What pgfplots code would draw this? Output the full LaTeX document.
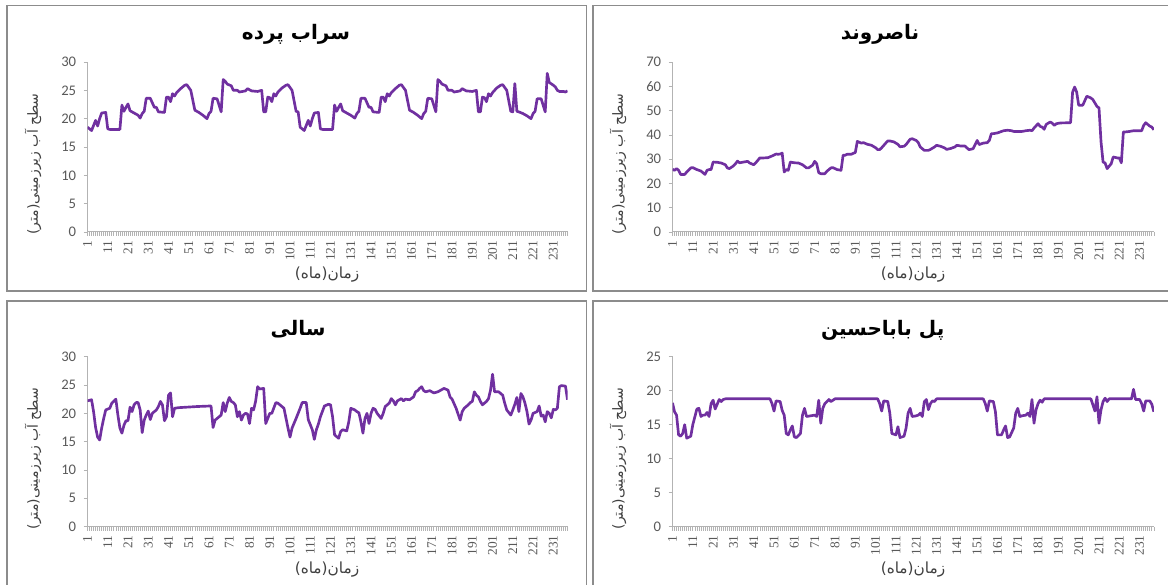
\documentclass[border=0pt]{standalone}
\usepackage{fontspec}
\usepackage{pgfplots}
\pgfplotsset{compat=1.18}
\TeXXeTstate=1
\newfontfamily\fa[Script=Arabic]{DejaVu Sans}
\newfontfamily\carlito{Carlito}
\newfontfamily\tnr{Liberation Serif}
\definecolor{lineP}{HTML}{7030A0}
\definecolor{axgray}{HTML}{B3B3B3}
\definecolor{frgray}{HTML}{8C8C8C}
\definecolor{lblgray}{HTML}{595959}
\definecolor{ttlgray}{HTML}{404040}

\pgfplotsset{
  panel/.style={
    scale only axis, width=360pt, height=127.5pt,
    xmin=1, xmax=238, ymin=0,
    axis lines=left, axis line style={draw=axgray, line width=0.75pt, -},
    xtick={1,11,...,231}, minor xtick={1,...,238},
    tick align=outside, major tick length=3pt, minor tick length=3pt,
    tick style={draw=axgray, line width=0.5pt},
    xticklabel style={rotate=90, anchor=east, font=\tnr\fontsize{10}{11}\selectfont, text=lblgray},
    yticklabel style={font=\carlito\fontsize{11}{12}\selectfont, text=lblgray, xshift=-2pt},
    /pgf/number format/assume math mode=true,
    every axis plot post/.style={draw=lineP, line width=2pt, line join=round, mark=none},
  },
}
\tikzset{
  ttl/.style={font=\fa\bfseries\fontsize{15}{17}\selectfont, anchor=base},
  ylab/.style={font=\fa\fontsize{10.5}{12}\selectfont, text=ttlgray, rotate=90},
  xlab/.style={font=\fa\fontsize{11.5}{13}\selectfont, text=ttlgray},
}

\begin{document}
\begin{tikzpicture}
\useasboundingbox (0,0) rectangle (876pt,-438.75pt);
\begin{scope}
\clip (0,0) rectangle (876pt,-438.75pt);
\draw[frgray, line width=0.9pt] (5.25pt,-4.1pt) rectangle (439.9pt,-218.25pt);
\draw[frgray, line width=0.9pt] (444.75pt,-4.1pt) rectangle (880pt,-218.25pt);
\draw[frgray, line width=0.9pt] (5.25pt,-225.75pt) rectangle (439.9pt,-445pt);
\draw[frgray, line width=0.9pt] (444.75pt,-225.75pt) rectangle (880pt,-445pt);
\end{scope}

% سراب پرده
\begin{axis}[panel, at={(65.625pt,-46.5pt)}, anchor=north west, ymax=30, ytick={0,5,...,30}]
\addplot coordinates {
(1,18.5)(2,18.2)(3,17.9)(4,18.8)(5,19.7)(6,18.7)(7,20.0)(8,21.0)(10,21.1)(11,18.2)(12,18.1)(17,18.1)
(18,22.4)(19,21.3)(20,22.0)(21,22.6)(22,21.4)(24,21.0)(26,20.6)(27,20.1)(28,20.9)(29,21.3)(30,23.6)
(32,23.6)(34,22.0)(35,22.0)(36,21.2)(39,21.1)(40,23.8)(41,23.8)(42,23.0)(43,24.4)(44,24.0)(45,24.6)
(47,25.3)(49,25.9)(50,26.0)(52,25.0)(54,21.5)(56,21.1)(58,20.6)(60,20.0)(61,20.9)(62,21.3)(63,23.6)
(65,23.5)(67,21.2)(68,26.9)(69,26.6)(70,26.1)(72,25.8)(73,25.0)(75,25.0)(76,24.7)(79,24.9)(80,25.3)
(82,24.9)(85,24.8)(87,25.0)(88,21.2)(89,21.2)(90,23.8)(91,23.7)(92,23.0)(93,24.4)(94,24.0)(95,24.7)
(97,25.4)(99,25.9)(100,26.0)(102,25.0)(104,21.3)(105,21.2)
(106,18.5)(107,18.2)(108,17.9)(109,18.8)(110,19.7)(111,18.7)(112,20.0)(113,21.0)(115,21.1)(116,18.2)
(117,18.1)(122,18.1)(123,22.4)(124,21.3)(125,22.0)(126,22.6)(127,21.4)(129,21.0)(131,20.6)(133,20.1)
(134,20.9)(135,21.3)(136,23.6)(138,23.6)(140,22.0)(141,22.0)(142,21.2)(145,21.1)(146,23.8)(147,23.8)
(148,23.0)(149,24.4)(150,24.0)(151,24.6)(153,25.3)(155,25.9)(156,26.0)(158,25.0)(160,21.5)(162,21.1)
(164,20.6)(166,20.0)(167,20.9)(168,21.3)(169,23.6)(171,23.5)(173,21.2)(174,26.9)(175,26.6)(176,26.1)
(178,25.8)(179,25.0)(181,25.0)(182,24.7)(185,24.9)(186,25.3)(188,24.9)(191,24.8)(193,25.0)(194,21.2)
(195,21.2)(196,23.8)(197,23.7)(198,23.0)(199,24.4)(200,24.0)(201,24.6)(203,25.4)(205,25.9)(206,26.0)
(208,25.0)(210,21.3)(211,21.2)(212,26.2)(213,21.3)(214,21.2)(216,20.9)(218,20.5)(220,20.0)(221,20.9)
(222,21.3)(223,23.5)(225,23.5)(227,21.2)(228,28.0)(229,26.4)(231,25.9)(232,25.6)(233,25.0)(234,24.8)
(236,24.8)(237,24.7)(238,24.9)
};
\end{axis}

% ناصروند
\begin{axis}[panel, at={(504.375pt,-46.5pt)}, anchor=north west, width=361pt, ymax=70, ytick={0,10,...,70}]
\addplot coordinates {
(1,25.8)(2,25.4)(3,26.1)(4,25.4)(5,23.7)(7,23.7)(8,24.7)(10,26.4)(11,26.5)(13,25.7)(15,25.1)(16,24.4)
(17,23.7)(18,25.4)(19,25.7)(20,25.7)(21,28.8)(23,28.7)(25,28.4)(27,27.7)(28,26.4)(29,26.1)(31,27.2)
(32,28.1)(33,29.2)(34,28.5)(36,28.8)(38,29.1)(39,28.4)(41,27.7)(42,28.5)(43,29.5)(44,30.5)(46,30.5)
(48,30.6)(50,31.3)(52,32.1)(53,32.0)(54,32.1)(55,32.5)(56,24.7)(57,25.7)(58,25.4)(59,28.8)(61,28.5)
(63,28.4)(65,27.7)(67,26.4)(68,26.4)(70,27.5)(71,29.1)(72,28.1)(73,24.4)(74,24.0)(76,24.0)(77,25.0)
(79,26.4)(80,26.5)(82,25.7)(84,25.4)(85,31.6)(86,31.6)(87,32.0)(89,32.0)(90,32.4)(91,32.7)(92,37.3)
(94,36.6)(95,36.8)(97,36.1)(99,35.7)(101,34.7)(102,33.9)(103,33.9)(104,34.7)(106,36.6)(107,37.5)
(108,37.5)(110,37.1)(112,36.1)(113,35.1)(115,35.3)(116,36.0)(118,38.2)(119,38.4)(121,37.7)(122,36.8)
(123,35.0)(125,33.6)(127,33.6)(128,34.0)(130,35.0)(131,35.7)(133,35.3)(135,34.6)(136,34.0)(138,34.4)
(140,35.0)(141,35.7)(143,35.4)(145,35.4)(146,34.6)(147,33.9)(149,34.3)(150,36.0)(151,37.7)(152,36.0)
(154,36.6)(156,36.8)(157,37.7)(158,40.5)(159,40.5)(161,40.8)(163,41.4)(164,41.7)(166,41.9)(168,41.7)
(169,41.4)(173,41.4)(175,41.7)(177,41.9)(178,41.7)(179,42.8)(181,44.6)(182,43.5)(183,43.2)(184,42.3)
(185,44.3)(187,45.3)(188,44.8)(189,43.9)(190,44.6)(192,44.9)(197,45.0)(198,57.6)(199,59.7)(200,57.6)
(201,52.2)(203,52.2)(205,55.9)(207,55.2)(208,54.5)(210,51.7)(211,51.1)(212,37.1)(213,28.8)(214,28.4)
(215,26.1)(217,28.1)(218,30.9)(220,30.5)(221,30.5)(222,28.5)(223,41.2)(224,41.2)(226,41.4)(228,41.7)
(232,41.7)(233,43.9)(234,45.0)(236,43.6)(237,43.2)(238,42.1)
};
\end{axis}

% سالی
\begin{axis}[panel, at={(65.625pt,-267.5pt)}, anchor=north west, ymax=30, ytick={0,5,...,30}]
\addplot coordinates {
(1,22.2)(3,22.4)(4,20.3)(5,17.5)(6,15.8)(7,15.3)(8,17.4)(9,19.1)(10,20.6)(12,20.9)(13,21.8)(15,22.5)
(16,19.7)(17,17.4)(18,16.5)(19,17.9)(20,18.7)(21,18.7)(22,21.1)(23,20.3)(24,21.5)(25,21.9)(26,21.9)
(27,20.6)(28,16.6)(29,18.8)(30,19.7)(31,20.4)(32,18.9)(33,20.0)(35,20.6)(36,21.2)(37,22.1)(38,21.5)
(39,18.7)(40,19.4)(41,23.2)(42,23.6)(43,19.4)(44,20.9)(46,21.0)(55,21.2)(62,21.3)(63,17.5)(64,18.8)
(65,19.1)(67,19.7)(68,21.9)(69,20.3)(70,21.8)(71,22.8)(72,22.1)(73,21.9)(74,21.5)(75,19.4)(76,20.3)
(77,18.8)(78,19.7)(79,20.0)(80,19.9)(81,18.2)(82,20.9)(83,20.6)(84,22.1)(85,24.7)(86,24.3)(88,24.4)
(89,18.2)(90,19.1)(91,20.0)(92,20.0)(94,21.9)(95,21.8)(97,21.2)(98,20.9)(100,17.4)(101,15.8)(102,17.4)
(104,19.1)(106,20.9)(107,21.9)(109,21.9)(110,18.9)(112,17.1)(113,15.4)(114,17.1)(115,18.1)(116,19.4)
(118,21.3)(120,21.6)(121,21.5)(122,19.4)(123,16.2)(125,15.6)(126,16.8)(127,17.1)(129,16.9)(130,18.5)
(131,20.9)(133,20.6)(134,20.3)(135,20.1)(136,18.5)(137,16.5)(138,19.1)(139,20.0)(140,18.2)(141,20.0)
(142,20.9)(143,20.7)(144,20.0)(146,19.1)(147,20.0)(148,21.2)(150,21.8)(151,22.6)(152,22.2)(153,21.5)
(154,22.2)(156,22.6)(157,22.2)(158,22.5)(160,22.4)(162,22.9)(163,23.8)(164,24.0)(165,24.4)(166,24.7)
(167,24.0)(168,23.8)(170,24.0)(172,23.6)(174,23.8)(176,24.2)(177,24.4)(179,24.1)(180,22.9)(181,22.5)
(183,20.9)(185,18.8)(186,20.3)(187,20.9)(189,21.5)(190,21.9)(191,22.1)(192,23.8)(193,23.2)(194,22.9)
(195,22.1)(196,21.5)(198,22.1)(199,22.6)(200,24.1)(201,26.9)(202,23.8)(204,23.8)(206,23.2)(207,21.8)
(208,20.6)(210,19.7)(211,20.6)(212,21.6)(213,22.8)(214,20.3)(215,23.5)(216,22.9)(217,21.8)(218,20.3)
(219,18.1)(220,18.8)(221,20.0)(223,20.3)(224,21.3)(225,19.5)(226,19.7)(227,18.5)(228,20.3)(229,20.0)
(230,19.2)(231,20.7)(232,20.6)(233,20.9)(234,24.7)(235,24.9)(237,24.8)(238,22.4)
};
\end{axis}

% پل باباحسین
\begin{axis}[panel, at={(504.375pt,-267.5pt)}, anchor=north west, width=361pt, ymax=25, ytick={0,5,...,25}]
\addplot coordinates {
(1,18.2)(2,16.9)(3,16.4)(4,13.5)(5,13.3)(6,13.7)(7,15.0)(8,13.0)(10,13.3)(11,15.0)(13,17.3)(14,17.4)
(15,16.2)(16,16.4)(17,16.4)(18,16.8)(19,16.2)(20,18.1)(21,18.6)(22,17.3)(24,18.7)(25,18.4)(26,18.7)
(27,18.8)(49,18.8)(50,18.1)(51,17.0)(52,18.5)(54,18.4)(55,17.1)(56,16.4)(57,13.7)(58,13.5)(59,14.2)
(60,14.8)(61,13.2)(62,13.1)(64,13.7)(65,16.4)(66,17.4)(67,16.2)(69,16.3)(71,16.4)(72,16.2)(73,18.6)
(74,15.2)(75,17.4)(76,18.1)(78,18.7)(79,18.4)(81,18.8)(102,18.8)(103,18.1)(104,17.0)(105,18.5)
(107,18.4)(108,16.7)(109,13.7)(111,13.5)(112,14.7)(113,13.1)(115,13.3)(116,14.5)(117,16.7)(118,17.4)
(119,16.2)(121,16.3)(122,16.4)(123,16.7)(124,16.2)(125,18.4)(126,18.7)(127,17.2)(128,18.1)(129,18.5)
(130,18.4)(131,18.8)(154,18.8)(155,18.1)(156,17.0)(157,18.5)(159,18.4)(160,16.9)(161,13.5)(163,13.5)
(164,14.2)(165,14.8)(166,13.1)(167,13.2)(169,14.5)(170,16.7)(171,17.4)(172,16.2)(173,16.3)(175,16.4)
(176,16.7)(177,16.2)(178,18.7)(179,15.2)(180,17.2)(181,18.1)(182,18.6)(183,18.3)(184,18.8)(207,18.8)
(208,17.9)(209,17.0)(210,19.1)(211,15.2)(212,17.2)(213,18.4)(214,18.9)(215,18.4)(216,18.8)(227,18.8)
(228,20.2)(229,18.7)(231,18.7)(232,18.1)(233,17.0)(234,18.5)(236,18.5)(237,18.0)(238,16.9)
};
\end{axis}

% titles and axis titles
\node[ttl] at (222pt,-30pt) {\beginR سراب پرده\endR};
\node[ttl] at (660pt,-30pt) {\beginR ناصروند\endR};
\node[ttl] at (223.5pt,-251.25pt) {\beginR سالی\endR};
\node[ttl] at (662pt,-251.25pt) {\beginR پل باباحسین\endR};
\foreach \xx/\yy in {24.75pt/-123pt, 463.5pt/-123pt, 24.75pt/-344pt, 463.5pt/-344pt}
  \node[ylab] at (\xx,\yy) {\beginR سطح آب زیرزمینی(متر)\endR};
\foreach \xx/\yy in {245.25pt/-206.25pt, 684.75pt/-206.25pt, 245.25pt/-427.3pt, 684.75pt/-427.3pt}
  \node[xlab] at (\xx,\yy) {\beginR زمان(ماه)\endR};
\end{tikzpicture}
\end{document}
